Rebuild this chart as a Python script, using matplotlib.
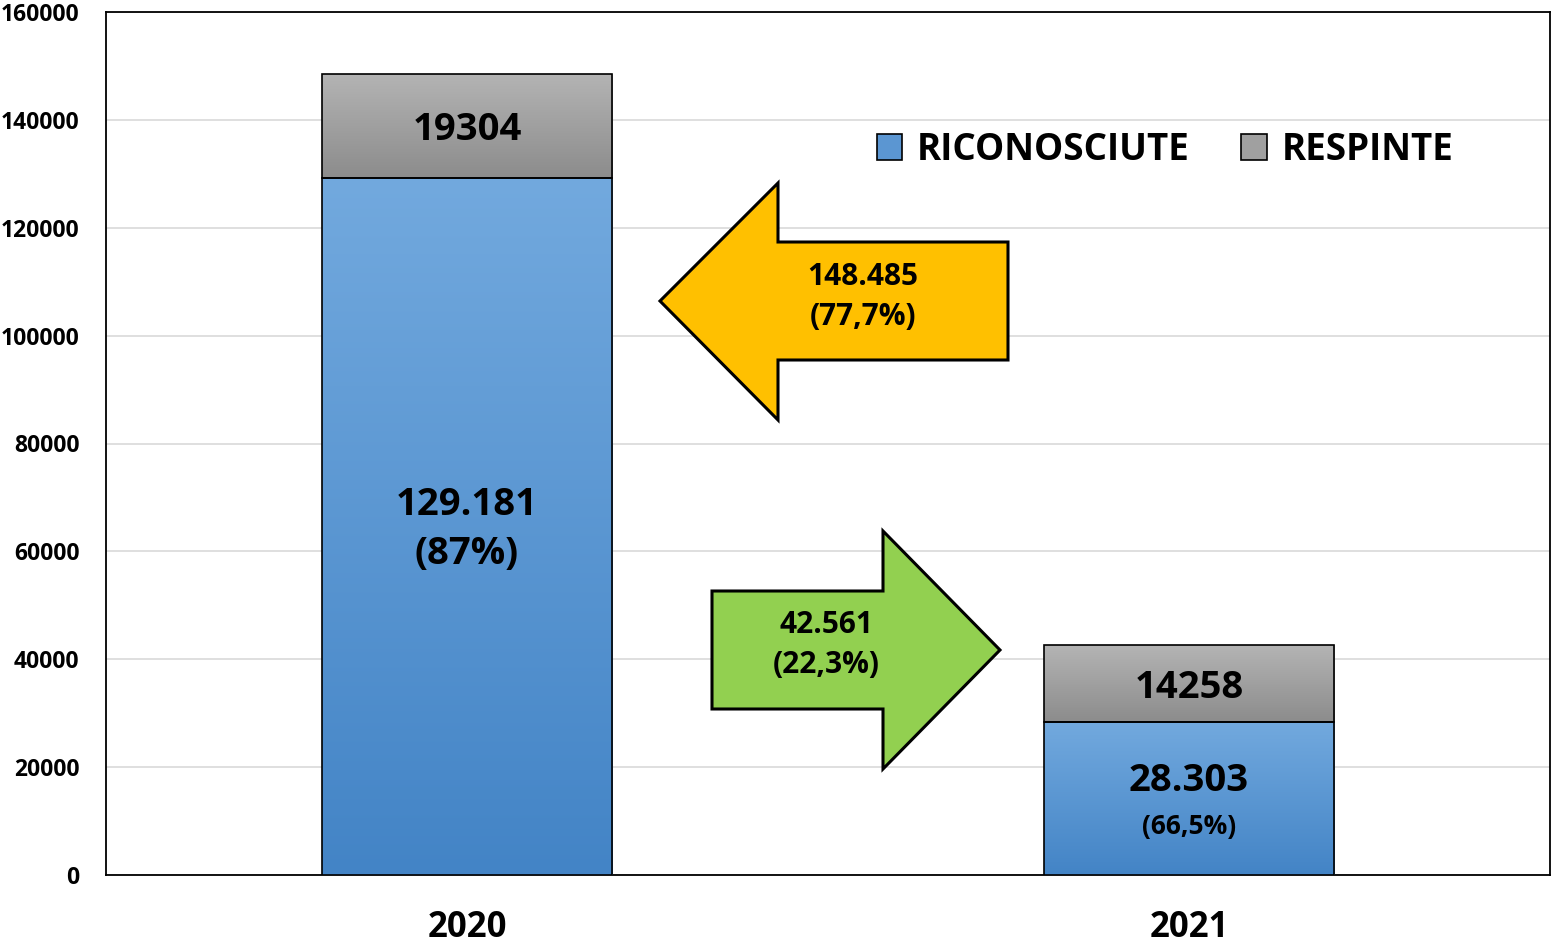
import numpy as np
import matplotlib
matplotlib.use("Agg")
import matplotlib.pyplot as plt
from matplotlib.colors import LinearSegmentedColormap
from matplotlib.patches import Polygon, Patch

plt.rcParams['font.family'] = ['Open Sans', 'DejaVu Sans']
plt.rcParams['font.weight'] = 'bold'

# ---- data ----
years = ["2020", "2021"]
riconosciute = [129181, 28303]
respinte = [19304, 14258]
ric_labels = ["129.181", "28.303"]
ric_pct = ["(87%)", "(66,5%)"]
totals_labels = ["148.485\n(77,7%)", "42.561\n(22,3%)"]
series_names = ["RICONOSCIUTE", "RESPINTE"]
yticks = [0, 20000, 40000, 60000, 80000, 100000, 120000, 140000, 160000]

blue_cmap = LinearSegmentedColormap.from_list("b", ["#4384c6", "#72a9de"])
gray_cmap = LinearSegmentedColormap.from_list("g", ["#8c8c8c", "#b4b4b4"])

fig = plt.figure(figsize=(15.54, 9.48), dpi=100)
ax = fig.add_axes([106/1554, 1-875/948, 1444/1554, 863/948])

x = np.arange(len(years))
width = 0.402

grad = np.linspace(0, 1, 256).reshape(-1, 1)

def grad_bars(bars, cmap):
    for b in bars:
        x0, y0 = b.get_x(), b.get_y()
        w, h = b.get_width(), b.get_height()
        im = ax.imshow(grad, extent=[x0, x0 + w, y0, y0 + h], origin='lower',
                       aspect='auto', cmap=cmap, zorder=3)
        im.set_clip_path(b)

b1 = ax.bar(x, riconosciute, width, color='none', edgecolor='black', linewidth=1.2, zorder=4)
b2 = ax.bar(x, respinte, width, bottom=riconosciute, color='none', edgecolor='black', linewidth=1.2, zorder=4)
grad_bars(b1, blue_cmap)
grad_bars(b2, gray_cmap)

# labels
for i in range(len(years)):
    ax.annotate(str(respinte[i]), (x[i], riconosciute[i] + respinte[i] / 2), xytext=(0, -3),
                textcoords='offset points', ha='center', va='center',
                fontsize=27.5, fontweight='bold', zorder=6)
for i in range(len(years)):
    mid = riconosciute[i] / 2
    if i == 0:
        ax.annotate(ric_labels[i] + "\n" + ric_pct[i], (x[i], mid), xytext=(0, -2),
                    textcoords='offset points', ha='center', va='center',
                    fontsize=27.5, fontweight='bold', linespacing=1.38, zorder=6)
    else:
        ax.annotate(ric_labels[i], (x[i], mid), xytext=(0, 13), textcoords='offset points',
                    ha='center', va='center', fontsize=27.5, fontweight='bold', zorder=6)
        ax.annotate(ric_pct[i], (x[i], mid), xytext=(0, -20), textcoords='offset points',
                    ha='center', va='center', fontsize=19, fontweight='bold', zorder=6)

# arrows (axes-fraction coordinates)
def fx(px):
    return (px - 106) / 1444
def fy(py):
    return (875 - py) / 863

yellow = [(660, 301), (778, 183), (778, 242), (1008, 242), (1008, 360), (778, 360), (778, 420)]
green = [(1000, 650), (883, 531), (883, 591), (712, 591), (712, 709), (883, 709), (883, 769)]
ax.add_patch(Polygon([(fx(a), fy(b)) for a, b in yellow], closed=True, transform=ax.transAxes,
                     facecolor='#ffc000', edgecolor='black', linewidth=2.2, zorder=5))
ax.add_patch(Polygon([(fx(a), fy(b)) for a, b in green], closed=True, transform=ax.transAxes,
                     facecolor='#92d050', edgecolor='black', linewidth=2.2, zorder=5))
ax.text(fx(863), fy(297), totals_labels[0], transform=ax.transAxes, ha='center', va='center',
        fontsize=21.5, fontweight='bold', linespacing=1.45, zorder=6)
ax.text(fx(826), fy(645), totals_labels[1], transform=ax.transAxes, ha='center', va='center',
        fontsize=21.5, fontweight='bold', linespacing=1.45, zorder=6)

# axes
ax.set_xlim(-0.5, 1.5)
ax.set_ylim(0, 160000)
ax.set_yticks(yticks)
ax.set_yticklabels([str(v) for v in yticks], fontsize=16.5, fontweight='bold')
ax.set_xticks(x)
ax.set_xticklabels(years, fontsize=25, fontweight='bold')
ax.tick_params(axis='y', length=0, pad=19)
ax.tick_params(axis='x', length=0, pad=25)
ax.grid(axis='y', color='#d9d9d9', linewidth=1.2, zorder=0)
ax.set_axisbelow(True)
for s in ax.spines.values():
    s.set_color('black')
    s.set_linewidth(1.3)

handles = [Patch(facecolor='#5b96d2', edgecolor='black', linewidth=1.2),
           Patch(facecolor='#a0a0a0', edgecolor='black', linewidth=1.2)]
leg = ax.legend(handles, series_names, loc='center', bbox_to_anchor=(fx(1165), fy(150)),
                ncol=2, frameon=False, fontsize=26.5, handlelength=0.7, handleheight=0.7,
                handletextpad=0.4, columnspacing=1.4)
for t in leg.get_texts():
    t.set_fontweight('bold')

fig.savefig("out.png", dpi=100)
